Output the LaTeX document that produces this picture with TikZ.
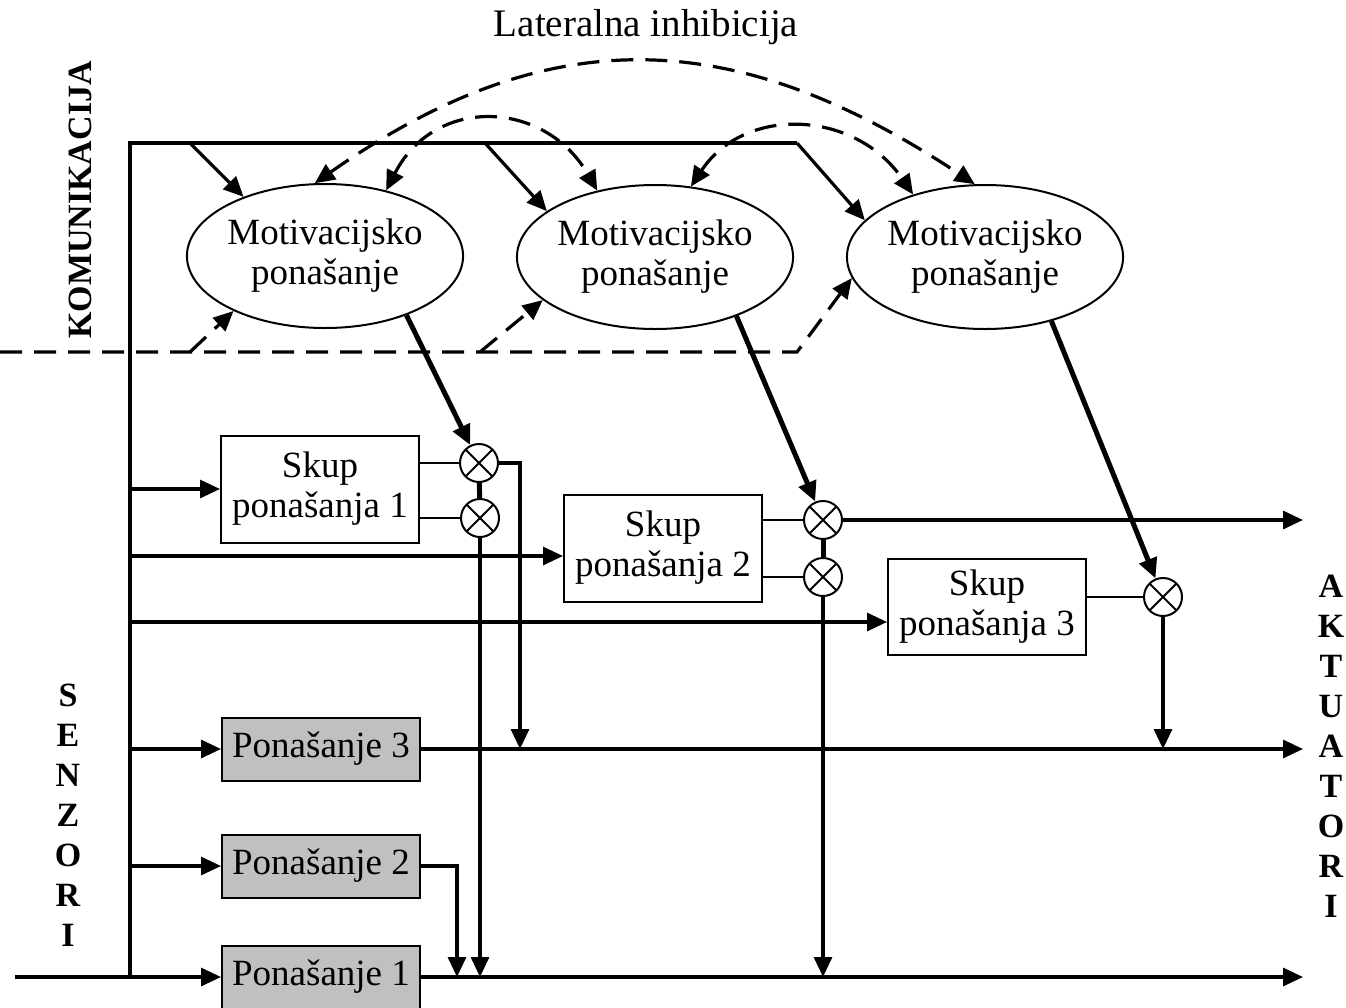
\documentclass[tikz,border=0pt]{standalone}
\usepackage{fontspec}
\setmainfont{Liberation Serif}
\usetikzlibrary{arrows.meta,shapes.geometric}
\definecolor{boxgray}{HTML}{C0C0C0}
\tikzset{
  >={Triangle[length=10pt,width=9pt]},
  wire/.style={line width=1.6pt},
  thinwire/.style={line width=1pt},
  lat/.style={line width=1.6pt, dash pattern=on 11pt off 6pt},
  motiv/.style={draw, ellipse, line width=1pt, minimum width=135pt, minimum height=72pt, inner sep=0pt, align=center},
  skup/.style={draw, line width=1pt, minimum width=99pt, minimum height=53.5pt, align=center},
  pon/.style={draw, line width=1pt, fill=boxgray, minimum width=99pt, minimum height=31.5pt},
  mnoz/.style={draw, circle, line width=1pt, minimum size=19pt, inner sep=0pt,
    path picture={\draw[line width=1pt] (path picture bounding box.north west) -- (path picture bounding box.south east)
      (path picture bounding box.north east) -- (path picture bounding box.south west);}},
  oznaka/.style={font=\fontsize{17}{20}\selectfont\bfseries, align=center}
}
\begin{document}
\begin{tikzpicture}[x=0.5pt, y=-0.5pt, font=\fontsize{18.5}{20}\selectfont]
        \useasboundingbox (0,0) rectangle (1346,1008);

        % Natpisi
        \node [font=\fontsize{19.5}{22}\selectfont] (lat) at (646,27) {Lateralna inhibicija};
        \node [oznaka, rotate=90] (kom) at (80,200) {KOMUNIKACIJA};
        \node [oznaka] (sen) at (68,815) {S\\E\\N\\Z\\O\\R\\I};
        \node [oznaka] (akt) at (1331,746) {A\\K\\T\\U\\A\\T\\O\\R\\I};

        % Motivacijska ponasanja
        \node [motiv] (mot1) at (325,256) {Motivacijsko\\ponašanje};
        \node [motiv] (mot2) at (655,257) {Motivacijsko\\ponašanje};
        \node [motiv] (mot3) at (985,257) {Motivacijsko\\ponašanje};

        % Skupovi ponasanja
        \node [skup] (skup1) at (320,489) {Skup\\ponašanja 1};
        \node [skup] (skup2) at (663,548) {Skup\\ponašanja 2};
        \node [skup, minimum height=48pt] (skup3) at (987,607) {Skup\\ponašanja 3};

        % Ponasanja
        \node [pon] (pon3) at (321,749) {Ponašanje 3};
        \node [pon] (pon2) at (321,866) {Ponašanje 2};
        \node [pon] (pon1) at (321,977) {Ponašanje 1};

        % Mnozila
        \node [mnoz] (mx1a) at (479,463) {};
        \node [mnoz] (mx1b) at (480,518) {};
        \node [mnoz] (mx2a) at (823,520) {};
        \node [mnoz] (mx2b) at (823,577) {};
        \node [mnoz] (mx3) at (1163,597) {};

        % Tocke sabirnica
        \coordinate (kt) at (130,143);
        \coordinate (kr) at (797,143);
        \coordinate (kb) at (130,977);
        \coordinate (k1) at (190,143);
        \coordinate (k2) at (485,143);
        \coordinate (ulaz) at (15,977);
        \coordinate (d0) at (0,352);
        \coordinate (d1) at (190,352);
        \coordinate (d2) at (480,352);
        \coordinate (d3) at (797,352);
        \coordinate (izl) at (1303,0);
        \coordinate (t1) at (520,749);
        \coordinate (t2) at (457,977);

        % Senzori i komunikacija
        \draw [wire] (kb) -- (kt) -- (kr);
        \draw [wire, ->] (kr) -- (mot3.163);
        \draw [wire, ->] (k1) -- (mot1.144);
        \draw [wire, ->] (k2) -- (mot2.157);
        \draw [wire, ->] (ulaz) -- (pon1.west);
        \foreach \y/\t in {489/skup1, 556/skup2, 622/skup3, 749/pon3, 866/pon2} {
            \draw [wire, ->] (130,\y) -- (\t.west |- 0,\y);
        }

        % Isprekidane veze
        \draw [lat, ->] (d0) -- (d3) -- (mot3.189);
        \draw [lat, ->] (d1) -- (mot1.211);
        \draw [lat, ->] (d2) -- (mot2.201);
        \draw [lat, <->] (mot1.98) .. controls (545,22) and (730,22) .. (mot3.98);
        \draw [lat, <->] (mot1.47) .. controls (435,95) and (545,100) .. (mot2.131);
        \draw [lat, <->] (mot2.63) .. controls (745,105) and (855,110) .. (mot3.139);

        % Aktivacija
        \draw [line width=2.5pt, ->] (mot1.324) -- (mx1a);
        \draw [line width=2.5pt, ->] (mot2.324) -- (mx2a);
        \draw [line width=2.5pt, ->] (mot3.316) -- (mx3);
        \draw [line width=2.5pt] (mx1a) -- (mx1b);
        \draw [line width=2.5pt] (mx2a) -- (mx2b);

        % Skupovi prema mnozilima
        \draw [thinwire] (skup1.east |- mx1a) -- (mx1a);
        \draw [thinwire] (skup1.east |- mx1b) -- (mx1b);
        \draw [thinwire] (skup2.east |- mx2a) -- (mx2a);
        \draw [thinwire] (skup2.east |- mx2b) -- (mx2b);
        \draw [thinwire] (skup3.east |- mx3) -- (mx3);

        % Izlazi
        \draw [wire, ->] (mx1a.east) -| (t1);
        \draw [wire, ->] (mx1b.south) -- (mx1b |- pon1.east);
        \draw [wire, ->] (mx2a.east) -- (mx2a -| izl);
        \draw [wire, ->] (mx2b.south) -- (mx2b |- pon1.east);
        \draw [wire, ->] (mx3.south) -- (mx3 |- pon3.east);
        \draw [wire, ->] (pon2.east) -| (t2);
        \draw [wire, ->] (pon3.east) -- (pon3.east -| izl);
        \draw [wire, ->] (pon1.east) -- (pon1.east -| izl);
    \end{tikzpicture}
\end{document}
